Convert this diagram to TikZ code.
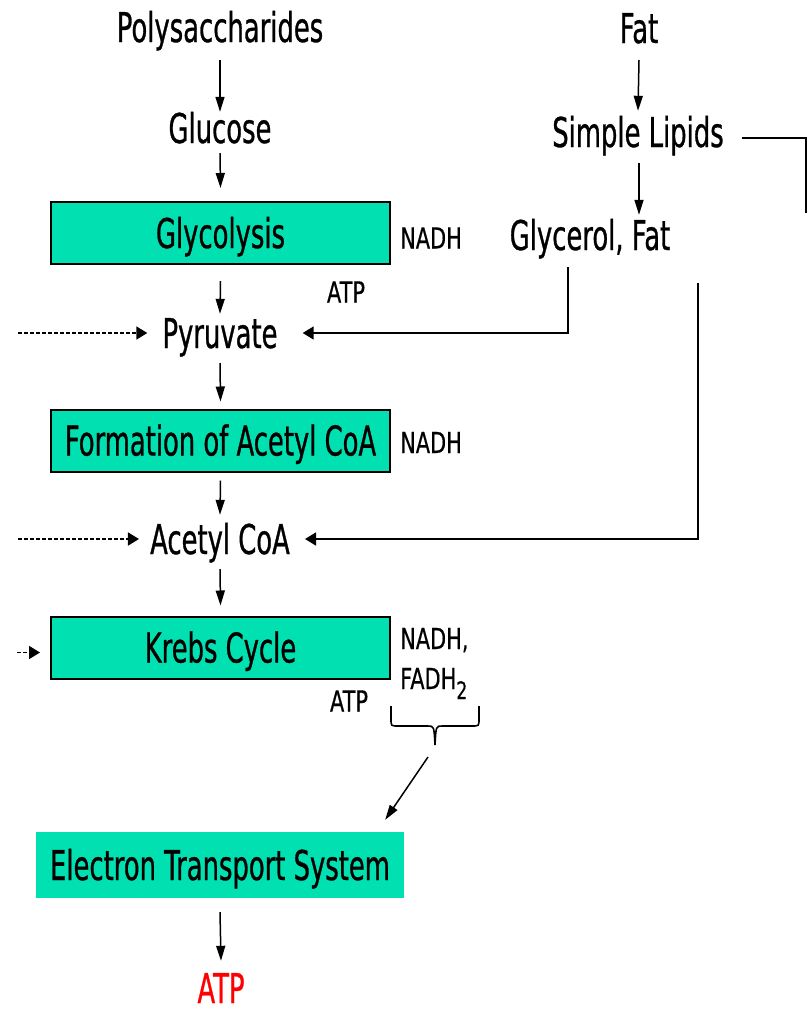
\documentclass[tikz,border=0pt]{standalone}
\usepackage{fontspec}
\newfontfamily\bigf{DejaVu Sans}[FakeStretch=0.63,FakeBold=0.7]
\newfontfamily\smf{DejaVu Sans}[FakeStretch=0.72,FakeBold=0.4]
\usetikzlibrary{arrows.meta,calc}
\definecolor{tealbox}{RGB}{0,224,176}
\begin{document}
\begin{tikzpicture}[x=1pt,y=-1pt,
  lbl/.style={inner sep=0pt, text height=30pt, text depth=0pt, anchor=base, font=\bigf\fontsize{41}{41}\selectfont},
  small/.style={inner sep=0pt, text height=21pt, text depth=0pt, font=\smf\fontsize{29}{29}\selectfont},
  procbox/.style={draw=black, line width=2pt, fill=tealbox, minimum width=339pt, minimum height=62pt, inner sep=0pt, text height=30pt, text depth=0pt, font=\bigf\fontsize{41}{41}\selectfont},
  etsbox/.style={fill=tealbox, minimum width=368pt, minimum height=66pt, inner sep=0pt, text height=30pt, text depth=0pt, font=\bigf\fontsize{41}{41}\selectfont},
  varr/.style={-{Triangle[length=15pt,width=9pt]}, line width=1.5pt},
  harr/.style={-{Triangle[length=11pt,width=13pt]}, line width=1.5pt},
  darr/.style={-{Triangle[length=11pt,width=13pt]}, line width=1.6pt, dash pattern=on 4pt off 2pt},
  plain/.style={line width=1.5pt}
]
\useasboundingbox (0,0) rectangle (810,1013);
% left column
\node[lbl] (poly) at (220,42) {Polysaccharides};
\node[lbl] (glucose) at (220,143) {Glucose};
\node[procbox] (glyc) at (220.5,233) {Glycolysis};
\node[lbl] (pyr) at (220,348) {Pyruvate};
\node[procbox] (form) at (220.5,440.5) {Formation of Acetyl CoA};
\node[lbl] (acetyl) at (220,554) {Acetyl CoA};
\node[procbox] (krebs) at (220.5,647.5) {Krebs Cycle};
\node[etsbox] (ets) at (220,865) {Electron Transport System};
\node[lbl, text=red] (atp) at (221,1003) {ATP};
% right column
\node[lbl] (fat) at (639,43) {Fat};
\node[lbl] (lipids) at (638,147) {Simple Lipids};
\node[lbl] (glycerol) at (590,250) {Glycerol, Fat};
% small labels
\node[small, anchor=west] (nadh1) at ($(glyc.east)+(9,5)$) {NADH};
\node[small] (atp1) at ($(glyc.south east)+(-45,27)$) {ATP};
\node[small, anchor=west] (nadh2) at ($(form.east)+(9,2)$) {NADH};
\node[small, anchor=base west] (nadh3) at (400,649) {NADH,};
\node[small, anchor=base west] (fadh) at (400,689) {FADH\raisebox{-10pt}{\fontsize{24}{24}\selectfont 2}};
\node[small] (atp2) at (349,701) {ATP};
% vertical arrows
\draw[varr] ($(poly.south)+(0,18)$) -- ($(glucose.north)+(0,-1)$);
\draw[varr] ($(glucose.south)+(0,10)$) -- ($(glyc.north)+(0,-13)$);
\draw[varr] ($(glyc.south)+(0,16)$) -- ($(pyr.north)+(0,-4)$);
\draw[varr] ($(pyr.south)+(0,15)$) -- ($(form.north)+(0,-7)$);
\draw[varr] ($(form.south)+(0,8)$) -- ($(acetyl.north)+(0,-9)$);
\draw[varr] ($(acetyl.south)+(0,15)$) -- ($(krebs.north)+(0,-10)$);
\draw[varr] ($(ets.south)+(0,14)$) -- ($(atp.north)+(0,-12)$);
\draw[varr] ($(fat.south)+(0,17)$) -- ($(lipids.north)+(0,-6)$);
\draw[varr] ($(lipids.south)+(1,16)$) -- ($(glycerol.north -| lipids.south)+(1,-5)$);
% side connectors
\draw[harr] ($(glycerol.south)+(-22,17)$) |- ($(pyr.east)+(25,0)$);
\draw[harr] ($(glycerol.south)+(108,33)$) |- ($(acetyl.east)+(15,0)$);
\draw[plain] ($(lipids.east)+(18,6)$) -| ++(64,75);
% dashed inputs
\coordinate (lm) at (18,0);
\draw[darr] (lm |- pyr.west) -- ($(pyr.west)+(-15,0)$);
\draw[darr] (lm |- acetyl.west) -- ($(acetyl.west)+(-11,0)$);
\draw[darr] ($(krebs.west)+(-33,5)$) -- ($(krebs.west)+(-10,5)$);
% brace
\draw[line width=1.6pt] (391,706) -- (391,719) .. controls (391,726) .. (398,726) -- (428,726) .. controls (434,726) .. (435,745) coordinate (brtip) .. controls (436,726) .. (442,726) -- (472,726) .. controls (479,726) .. (479,719) -- (479,706);
\draw[varr] ($(brtip)+(-7,12)$) -- ($(ets.north east)+(-19,-12)$);
\end{tikzpicture}
\end{document}
